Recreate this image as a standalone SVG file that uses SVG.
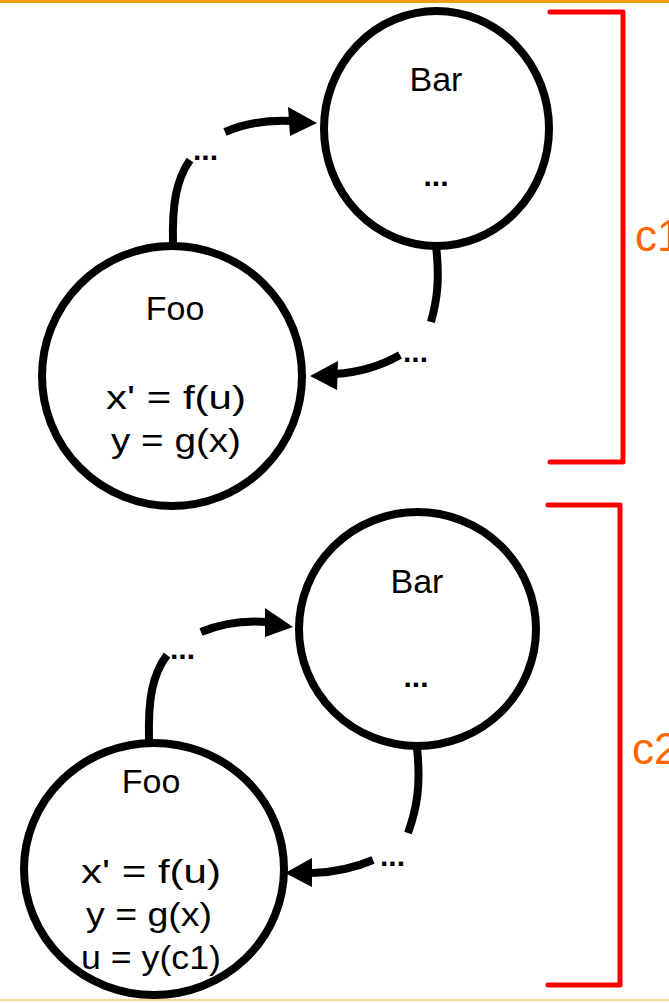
<svg xmlns="http://www.w3.org/2000/svg" width="669" height="1003" viewBox="0 0 669 1003">
<style>
.node{fill:#fff;stroke:#000;stroke-width:8}
.t{font-family:"Liberation Sans",Arial,sans-serif;font-size:34px;fill:#000;text-anchor:middle}
.d{font-family:"Liberation Sans",Arial,sans-serif;font-size:30px;fill:#000;font-weight:bold}
.c{fill:none;stroke:#000;stroke-width:8}
.ah{fill:#000}
.br{fill:none;stroke:#ff0000;stroke-width:5;stroke-linecap:round;stroke-linejoin:round}
.bl{font-family:"Liberation Sans",Arial,sans-serif;font-size:44px;fill:#ff6600}
</style>
<rect x="0" y="0" width="669" height="1003" fill="#fff"/>
<rect x="0" y="0" width="669" height="3" fill="#f39c12"/>
<rect x="0" y="999" width="669" height="2" fill="#f8d49a"/>

<g id="bracket-c1">
<path class="br" d="M550,12 H623 V462 H550"/>
<text class="bl" x="635" y="251">c1</text>
</g>
<g id="bracket-c2">
<path class="br" d="M548,505 H620 V985 H548"/>
<text class="bl" x="632" y="764">c2</text>
</g>

<g id="connectors">
<path class="c" d="M173,244 C172,205 176,180 190,160"/>
<text class="d" x="193" y="160">...</text>
<path class="c" d="M225,132 Q255,119 292,121"/>
<polygon class="ah" points="317,123 288,107 290,136"/>

<path class="c" d="M436,246 C440,280 437,300 431,322"/>
<text class="d" x="403" y="362">...</text>
<path class="c" d="M400,355 Q370,372 335,374"/>
<polygon class="ah" points="310,376 338,361 337,390"/>

<path class="c" d="M149,740 C148,700 152,675 167,655"/>
<text class="d" x="170" y="659">...</text>
<path class="c" d="M201,632 Q232,619 268,622"/>
<polygon class="ah" points="293,627 265,608 265,637"/>

<path class="c" d="M417,748 C421,785 417,808 408,833"/>
<text class="d" x="380" y="866">...</text>
<path class="c" d="M373,860 Q345,872 312,873"/>
<polygon class="ah" points="285,873 312,858 312,887"/>
</g>

<g id="bar1">
<ellipse class="node" cx="436.5" cy="128.5" rx="112.5" ry="117.5"/>
<text class="t" x="436" y="91">Bar</text>
<text class="d" x="436" y="186" text-anchor="middle">...</text>
</g>
<g id="foo1">
<ellipse class="node" cx="172" cy="376" rx="130" ry="130"/>
<text class="t" x="175" y="320">Foo</text>
<text class="t" x="176" y="409" textLength="140" lengthAdjust="spacingAndGlyphs">x' = f(u)</text>
<text class="t" x="176" y="452" textLength="130" lengthAdjust="spacingAndGlyphs">y = g(x)</text>
</g>
<g id="bar2">
<ellipse class="node" cx="417.5" cy="629" rx="118.5" ry="117"/>
<text class="t" x="417" y="593">Bar</text>
<text class="d" x="416" y="687" text-anchor="middle">...</text>
</g>
<g id="foo2">
<ellipse class="node" cx="154" cy="869" rx="130" ry="126"/>
<text class="t" x="151" y="793">Foo</text>
<text class="t" x="151" y="883" textLength="140" lengthAdjust="spacingAndGlyphs">x' = f(u)</text>
<text class="t" x="149" y="926" textLength="126" lengthAdjust="spacingAndGlyphs">y = g(x)</text>
<text class="t" x="151" y="969" textLength="140" lengthAdjust="spacingAndGlyphs">u = y(c1)</text>
</g>
</svg>
